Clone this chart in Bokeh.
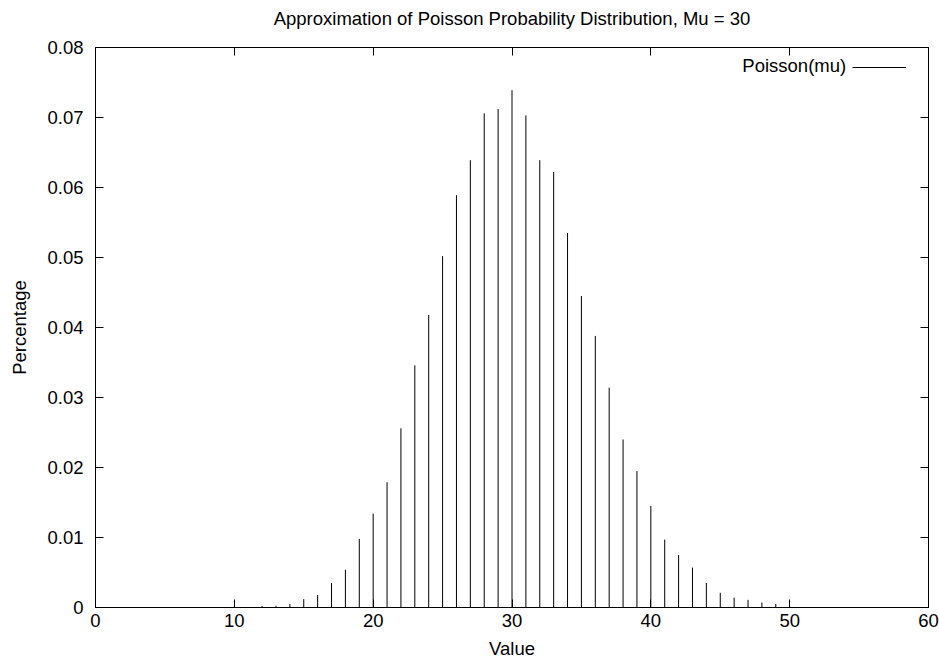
from bokeh.plotting import figure
from bokeh.models import (ColumnDataSource, LinearAxis, FixedTicker, Legend, LegendItem,
                          Label, Range1d)
from bokeh.core.properties import value
from bokeh.embed import file_html
from bokeh.resources import INLINE

# ---- data ----
values = [12, 13, 14, 15, 16, 17, 18, 19, 20, 21, 22, 23, 24, 25, 26, 27, 28, 29, 30,
          31, 32, 33, 34, 35, 36, 37, 38, 39, 40, 41, 42, 43, 44, 45, 46, 47, 48, 49]
percentage = [0.0002, 0.00025, 0.0005, 0.0012, 0.0018, 0.0035, 0.0054, 0.0098, 0.0134,
              0.0179, 0.0256, 0.0346, 0.0418, 0.0502, 0.0589, 0.0639, 0.0706, 0.0712,
              0.0739, 0.0703, 0.0639, 0.0622, 0.0535, 0.0445, 0.0388, 0.0314, 0.0240,
              0.0195, 0.0145, 0.0097, 0.0075, 0.0057, 0.0035, 0.0021, 0.0014, 0.0011,
              0.0007, 0.0005]
baseline = [0.0] * len(values)
x_ticks = [0, 10, 20, 30, 40, 50, 60]
x_tick_labels = ["0", "10", "20", "30", "40", "50", "60"]
y_ticks = [0.0, 0.01, 0.02, 0.03, 0.04, 0.05, 0.06, 0.07, 0.08]
y_tick_labels = ["0", "0.01", "0.02", "0.03", "0.04", "0.05", "0.06", "0.07", "0.08"]
title_text = "Approximation of Poisson Probability Distribution, Mu = 30"
series_name = "Poisson(mu)"
x_label = "Value"
y_label = "Percentage"

FONT = "Liberation Sans"
FS = "18.5px"

src = ColumnDataSource(data=dict(x=values, y0=baseline, y1=percentage))

p = figure(width=939, height=662, output_backend="svg", toolbar_location=None,
           x_range=Range1d(0, 60), y_range=Range1d(0, 0.08),
           min_border_left=95, min_border_right=11, min_border_top=47, min_border_bottom=55,
           x_axis_type=None, y_axis_type=None)
p.grid.visible = False
p.outline_line_color = "black"
p.outline_line_width = 1
p.background_fill_color = "white"
p.border_fill_color = "white"

r = p.segment(x0="x", y0="y0", x1="x", y1="y1", source=src, line_color="black", line_width=1)


def style_axis(ax, ticks, labels, show_labels):
    ax.ticker = FixedTicker(ticks=ticks)
    ax.major_tick_in = 8
    ax.major_tick_out = 0
    ax.minor_tick_in = 0
    ax.minor_tick_out = 0
    ax.major_tick_line_color = "black"
    ax.axis_line_color = "black"
    ax.major_label_text_font = FONT
    ax.major_label_text_font_size = FS
    ax.axis_label_text_font = FONT
    ax.axis_label_text_font_size = FS
    ax.axis_label_text_font_style = "normal"
    ax.axis_label_text_color = "black"
    if show_labels:
        ax.major_label_overrides = {t: l for t, l in zip(ticks, labels)}
        ax.major_label_text_color = "black"
    else:
        ax.major_label_text_color = None
        ax.major_label_standoff = 0


xb = LinearAxis(axis_label=x_label)
style_axis(xb, x_ticks, x_tick_labels, True)
xb.major_label_standoff = 6
xb.axis_label_standoff = 8
p.add_layout(xb, "below")

yl = LinearAxis(axis_label=y_label)
style_axis(yl, y_ticks, y_tick_labels, True)
yl.major_label_standoff = 12
yl.axis_label_standoff = 14
p.add_layout(yl, "left")

# top mirror axis; its label carries the chart title, centred over the frame
xt = LinearAxis(axis_label=title_text)
style_axis(xt, x_ticks, x_tick_labels, False)
xt.axis_label_standoff = 19
p.add_layout(xt, "above")

yr = LinearAxis()
style_axis(yr, y_ticks, y_tick_labels, False)
p.add_layout(yr, "right")

legend = Legend(items=[LegendItem(label=value(""), renderers=[r])],
                location=(757, 532), padding=0, margin=0, spacing=0,
                label_standoff=0, glyph_width=54, glyph_height=16, label_height=16,
                label_width=0, label_text_color=None,
                border_line_color=None, background_fill_alpha=0)
p.add_layout(legend, "center")

p.add_layout(Label(x=54.07, y=0.0774, text=series_name, text_align="right",
                   text_baseline="middle", text_font=FONT, text_font_size=FS,
                   text_color="black"))

open("out.html", "w").write(file_html(p, INLINE))
